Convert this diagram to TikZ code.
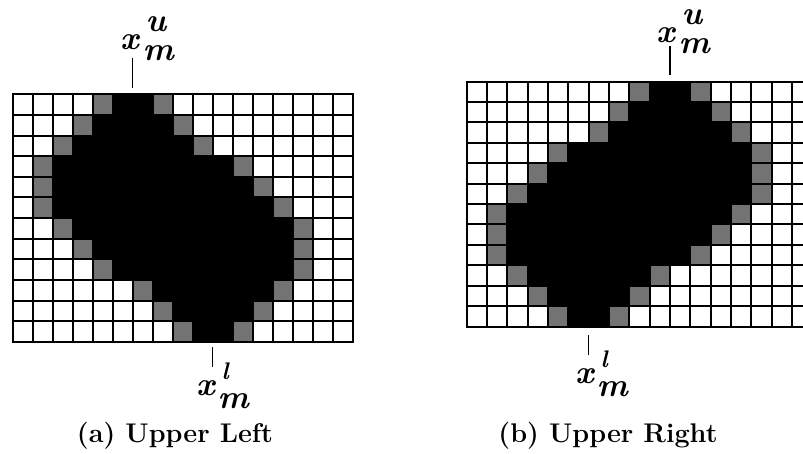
\documentclass[tikz,border=0pt]{standalone}
\usepackage{fontspec}
\newcommand{\blobrows}{1/5/8,2/4/9,3/3/10,4/2/12,5/2/13,6/2/14,7/3/15,8/4/15,9/5/15,10/7/14,11/8/13,12/9/12}
\newcommand{\xup}{x\kern4pt\rlap{\kern3pt\raisebox{18pt}{u}}\raisebox{-11pt}{m}}
\newcommand{\xlow}{x\kern3pt\rlap{\kern4pt\raisebox{16pt}{\fontsize{24}{24}\selectfont l}}\raisebox{-13pt}{m}}
\tikzset{
  cellline/.style={line width=2pt,line cap=rect},
  halftone/.style={fill=black!55},
  blob/.style={fill=black},
  tick/.style={line width=1.5pt},
  xlab/.style={font=\fontsize{33}{33}\selectfont\bfseries\itshape,inner sep=0pt,anchor=base west},
  caption/.style={font=\fontsize{27}{27}\selectfont\bfseries,inner sep=0pt,anchor=base}
}
\begin{document}
\begin{tikzpicture}[x=1pt,y=1pt]
\useasboundingbox (0,0) rectangle (803,453);

\begin{scope}[shift={(12.7,358.5)},x=20pt,y=-20.6pt]
\foreach \r/\ga/\gb in \blobrows {
  \fill[halftone] (\ga-1,\r-1) rectangle (\ga,\r);
  \fill[blob] (\ga,\r-1) rectangle (\gb-1,\r);
  \fill[halftone] (\gb-1,\r-1) rectangle (\gb,\r);
}
\foreach \c in {0,...,17} \draw[cellline] (\c,0) -- (\c,12);
\foreach \r in {0,...,12} \draw[cellline] (0,\r) -- (17,\r);
\end{scope}

\begin{scope}[shift={(466.7,371.3)},x=20.33pt,y=-20.4pt]
\foreach \r/\ga/\gb [evaluate=\r as \rb using int(13-\r)] in \blobrows {
  \fill[halftone] (\ga-1,\rb-1) rectangle (\ga,\rb);
  \fill[blob] (\ga,\rb-1) rectangle (\gb-1,\rb);
  \fill[halftone] (\gb-1,\rb-1) rectangle (\gb,\rb);
}
\foreach \c in {0,...,17} \draw[cellline] (\c,0) -- (\c,12);
\foreach \r in {0,...,12} \draw[cellline] (0,\r) -- (17,\r);
\end{scope}

\node[xlab] (aup) at (120,403) {\xup};
\coordinate (aupA) at (132.7,395);
\coordinate (aupB) at (132.7,365);
\draw[tick] (aupA) -- (aupB);

\node[xlab] (alow) at (196,58) {\xlow};
\coordinate (alowA) at (212.7,106);
\coordinate (alowB) at (212.7,86);
\draw[tick] (alowA) -- (alowB);

\node[xlab] (bup) at (656,410) {\xup};
\coordinate (bupA) at (670,407);
\coordinate (bupB) at (670,378);
\draw[tick] (bupA) -- (bupB);

\node[xlab] (blow) at (575,70) {\xlow};
\coordinate (blowA) at (588.7,118);
\coordinate (blowB) at (588.7,98);
\draw[tick] (blowA) -- (blowB);

\node[caption] (acap) at (175,11) {(a) Upper Left};
\node[caption] (bcap) at (608,11) {(b) Upper Right};
\end{tikzpicture}
\end{document}
